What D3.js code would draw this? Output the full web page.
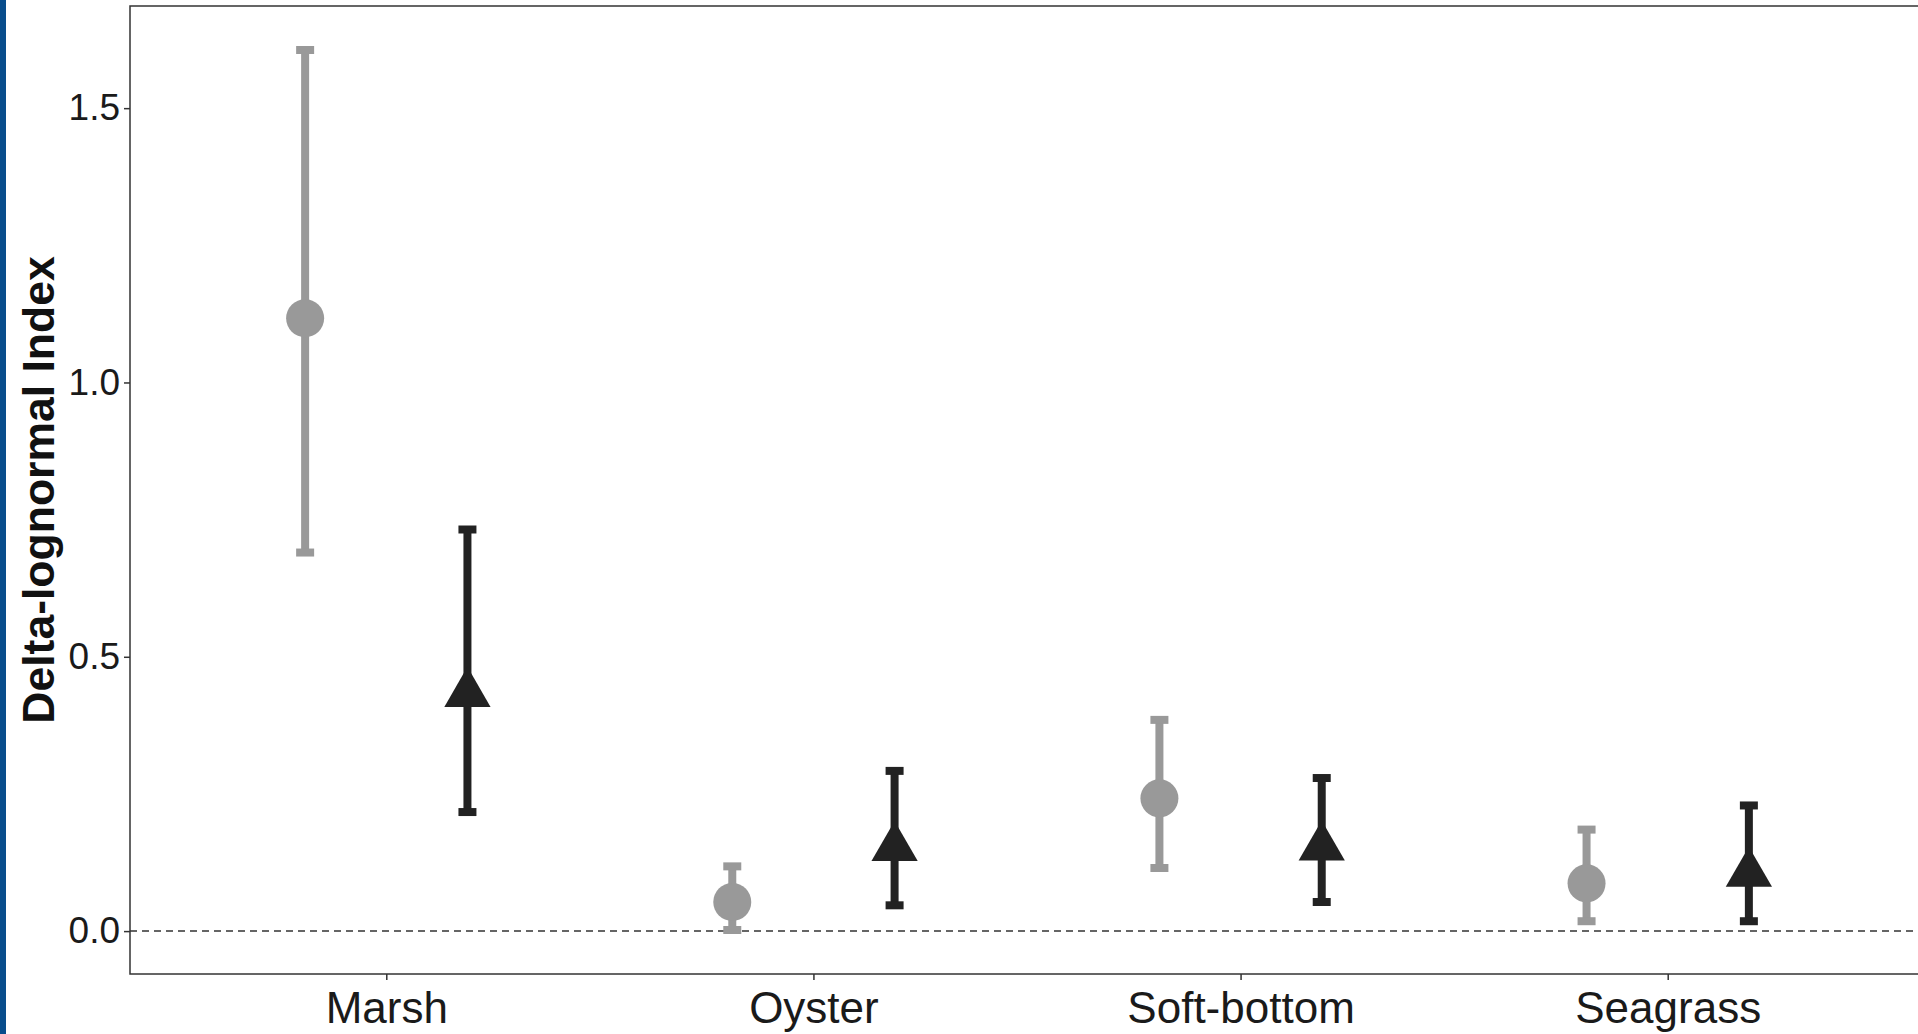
<!DOCTYPE html>
<html>
<head>
<meta charset="utf-8">
<script src="https://cdn.jsdelivr.net/npm/d3@7"></script>
<style>
  html, body { margin: 0; padding: 0; background: #fff; }
  svg { display: block; font-family: "Liberation Sans", Arial, sans-serif; }
</style>
</head>
<body>
<svg id="chart" width="1918" height="1034"></svg>
<script>
// habitat categories along the x axis
const categories = ['Marsh', 'Oyster', 'Soft-bottom', 'Seagrass'];

// grey circles (first group)
const greyMean  = [1.117, 0.053, 0.242, 0.087];
const greyLower = [0.690, 0.002, 0.115, 0.018];
const greyUpper = [1.606, 0.118, 0.385, 0.185];

// black triangles (second group)
const blackMean  = [0.433, 0.152, 0.153, 0.105];
const blackLower = [0.217, 0.047, 0.053, 0.018];
const blackUpper = [0.732, 0.292, 0.279, 0.229];

const yTicks = [0, 0.5, 1.0, 1.5];

const width = 1918, height = 1034;
const panel = { left: 130, top: 6, bottom: 974, right: 1924 }; // right edge runs off the canvas

const svg = d3.select('#chart');

// blue strip on the far left
svg.append('rect').attr('x', 0).attr('y', 0).attr('width', 6).attr('height', height).attr('fill', '#084d8c');

// discrete x positions, ggplot style 0.6 padding on each side
const x = d3.scaleLinear()
    .domain([-0.6, categories.length - 1 + 0.6])
    .range([panel.left, panel.right]);
const dodge = 0.19; // offset of each group from the category centre

// y scale with 5% expansion of the data range
const allVals = greyLower.concat(greyUpper, blackLower, blackUpper);
const [lo, hi] = d3.extent(allVals);
const pad = (hi - lo) * 0.05;
const y = d3.scaleLinear().domain([lo - pad, hi + pad]).range([panel.bottom, panel.top]);

// reference line at zero
svg.append('line')
    .attr('x1', panel.left).attr('x2', width)
    .attr('y1', y(0)).attr('y2', y(0))
    .attr('stroke', '#333').attr('stroke-width', 1.5)
    .attr('stroke-dasharray', '7,5');

// build the two groups from the arrays
const groups = [
    { color: '#999999', shape: 'circle', offset: -dodge, mean: greyMean, lower: greyLower, upper: greyUpper },
    { color: '#222222', shape: 'triangle', offset: dodge, mean: blackMean, lower: blackLower, upper: blackUpper }
];

const capHalf = 9;
groups.forEach(g => {
    const rows = categories.map((c, i) => ({ i, mean: g.mean[i], lower: g.lower[i], upper: g.upper[i] }));
    const gg = svg.append('g');

    // vertical bars
    gg.selectAll('line.bar').data(rows).enter().append('line')
        .attr('class', 'bar')
        .attr('x1', d => x(d.i + g.offset)).attr('x2', d => x(d.i + g.offset))
        .attr('y1', d => y(d.lower)).attr('y2', d => y(d.upper))
        .attr('stroke', g.color).attr('stroke-width', 8);

    // caps
    ['lower', 'upper'].forEach(k => {
        gg.selectAll('line.cap-' + k).data(rows).enter().append('line')
            .attr('class', 'cap-' + k)
            .attr('x1', d => x(d.i + g.offset) - capHalf).attr('x2', d => x(d.i + g.offset) + capHalf)
            .attr('y1', d => y(d[k])).attr('y2', d => y(d[k]))
            .attr('stroke', g.color).attr('stroke-width', 8);
    });

    // points
    if (g.shape === 'circle') {
        gg.selectAll('circle').data(rows).enter().append('circle')
            .attr('cx', d => x(d.i + g.offset)).attr('cy', d => y(d.mean))
            .attr('r', 19).attr('fill', g.color);
    } else {
        const r = 26.7; // distance centre -> apex, base sits r/2 below centre
        gg.selectAll('path').data(rows).enter().append('path')
            .attr('d', d => {
                const cx = x(d.i + g.offset), cy = y(d.mean);
                const hw = r * Math.sqrt(3) / 2;
                return `M${cx},${cy - r}L${cx + hw},${cy + r / 2}L${cx - hw},${cy + r / 2}Z`;
            })
            .attr('fill', g.color);
    }
});

// panel border
svg.append('rect')
    .attr('x', panel.left).attr('y', panel.top)
    .attr('width', panel.right - panel.left).attr('height', panel.bottom - panel.top)
    .attr('fill', 'none').attr('stroke', '#333').attr('stroke-width', 1.5);

// y axis
const yAxis = d3.axisLeft(y).tickValues(yTicks).tickFormat(d3.format('.1f')).tickSize(6).tickPadding(4);
const yg = svg.append('g').attr('transform', `translate(${panel.left},0)`).call(yAxis);
yg.select('.domain').remove();
yg.selectAll('line').attr('stroke', '#333').attr('stroke-width', 1.5);
yg.selectAll('text').attr('font-size', 37).attr('fill', '#1a1a1a')
    .attr('font-family', '"Liberation Sans", Arial, sans-serif');

// x axis
const xAxis = d3.axisBottom(x).tickValues(d3.range(categories.length)).tickFormat(i => categories[i]).tickSize(6).tickPadding(12);
const xg = svg.append('g').attr('transform', `translate(0,${panel.bottom})`).call(xAxis);
xg.select('.domain').remove();
xg.selectAll('line').attr('stroke', '#333').attr('stroke-width', 1.5);
xg.selectAll('text').attr('font-size', 44).attr('fill', '#1a1a1a')
    .attr('font-family', '"Liberation Sans", Arial, sans-serif');

// y title
svg.append('text')
    .attr('transform', `translate(54,${(panel.top + panel.bottom) / 2}) rotate(-90)`)
    .attr('text-anchor', 'middle')
    .attr('font-size', 44.5).attr('font-weight', 'bold').attr('fill', '#111')
    .text('Delta-lognormal Index');
</script>
</body>
</html>
